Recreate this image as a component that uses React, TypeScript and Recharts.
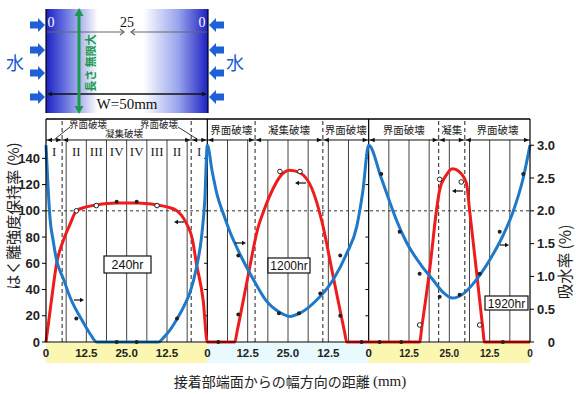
import React from 'react'
import { ComposedChart, Line, Scatter, XAxis, YAxis, ReferenceLine } from 'recharts'

const W = 576
const H = 394
const PLOT = { left: 46, right: 530, top: 119, bottom: 342 }
const X_MAX = 150 // three 50mm panels side by side
const Y_MAX = 170 // left axis, top of header row
const Y2_MAX = 3.4 // right axis, same pixel scale (150 <-> 3.0)
const SANS = "'Liberation Sans', Arial, sans-serif"
const SERIF = "'Liberation Serif', 'Times New Roman', serif"
const JP = "'Noto Sans CJK JP', sans-serif"

// ── Data (x = mm inside each panel) ─────────────────────────────────────────

const PANELS = ['240hr', '1200hr', '1920hr']
const PANEL_OFFSET = [0, 50, 100]

// はく離強度保持率 (%), red
const strength240 = [[0, 0], [0.8, 15], [1.8, 34], [3.3, 60], [5.3, 77], [7.5, 90], [9.4, 100], [12.5, 103], [15.6, 104.5], [21.9, 106], [28.1, 106], [34.4, 104.5], [37.5, 103], [40.6, 100], [43.4, 91], [45.4, 78], [46.6, 60], [48.7, 32], [50, 0]]
const strength1200 = [[0, 0], [8.5, 0], [9.3, 9], [12.2, 45], [15.8, 88], [17.5, 100], [20.4, 117], [22.5, 126], [25.5, 131], [28.7, 129], [32.4, 117], [35.5, 92], [39, 50], [42.5, 8], [43.2, 0], [50, 0]]
const strength1920 = [[0, 0], [15.8, 0], [16.5, 12], [19, 57], [21, 100], [22, 116], [24, 127], [26, 132], [28, 130], [30.3, 121], [31.3, 100], [33.5, 52], [35.3, 12], [35.9, 0], [50, 0]]

// 吸水率 (%), blue
const water240 = [[0, 3.0], [0.6, 2.4], [1.25, 1.88], [2.2, 1.55], [3.4, 1.22], [4.3, 1.09], [5.4, 0.96], [7.4, 0.69], [9, 0.52], [10.5, 0.39], [12, 0.26], [13.6, 0.13], [15.7, 0], [34.8, 0], [36.5, 0.07], [38.4, 0.18], [40.6, 0.35], [43, 0.57], [44.6, 0.75], [46.7, 1.15], [48.2, 1.6], [49.2, 2.15], [50, 3.0]]
const water1200 = [[0, 3.0], [1.5, 2.6], [3, 2.25], [5, 1.95], [7, 1.68], [10.2, 1.33], [14.3, 0.95], [18.4, 0.62], [22.5, 0.45], [25.5, 0.39], [28.7, 0.44], [33.9, 0.64], [39, 0.95], [43.2, 1.35], [46.3, 1.76], [48.2, 2.3], [50, 3.0]]
const water1920 = [[0, 3.0], [3.9, 2.5], [6.5, 2.14], [8.6, 1.86], [11.7, 1.52], [16.3, 1.17], [19.9, 0.95], [23, 0.76], [26, 0.67], [29.2, 0.73], [33.4, 0.95], [37.5, 1.25], [41.6, 1.62], [44.7, 1.98], [47.9, 2.5], [50, 3.0]]

// measured points (left-axis units)
const dotsFilled = [
  [[9.4, 18], [21.9, 0], [28.1, 0], [40.6, 18], [21.9, 107], [28.1, 107]],
  [[3.4, 0], [9.6, 66], [9.6, 21], [22.2, 22], [28.4, 22], [35, 37], [41.2, 66], [41.2, 20], [47.8, 0]],
  [[3.4, 0], [10.1, 0], [9.6, 84], [15.8, 52], [22, 34.5], [28.2, 36], [34.4, 52], [40.6, 84], [41.6, 0], [47.9, 128], [3.9, 128]],
]
const dotsOpen = [
  [[9.4, 100], [15.6, 104], [34.4, 104]],
  [[22.5, 130], [28.7, 130]],
  [[22, 124], [28.7, 122], [15.8, 13], [34.4, 13]],
]

// failure zones: dashed boundaries per panel (mm)
const zoneBounds = [[5, 45], [14.8, 35.8], [21.7, 29.8]]
const zoneLabels = [
  [],
  [['界面破壊', 0, 14.8], ['凝集破壊', 14.8, 35.8], ['界面破壊', 35.8, 50]],
  [['界面破壊', 0, 21.7], ['凝集', 21.7, 29.8], ['界面破壊', 29.8, 50]],
]
const romanLabels = [['I', 2.5], ['II', 9.4], ['III', 15.6], ['IV', 21.9], ['IV', 28.1], ['III', 34.4], ['II', 40.6], ['I', 47.5]]

const X_TICKS = [0, 12.5, 25, 37.5, 50, 62.5, 75, 87.5, 100, 112.5, 125, 137.5, 150]
const Y_TICKS = [0, 20, 40, 60, 80, 100, 120, 140]
const Y2_TICKS = [0, 0.5, 1, 1.5, 2, 2.5, 3]
const GRID_STEP = 6.25
const HEADER_LINE = 154

const join = (sets: number[][][]) =>
  sets.flatMap((s, i) => s.map(([x, v]) => ({ x: x + PANEL_OFFSET[i], v })))

const strengthData = join([strength240, strength1200, strength1920])
const waterData = join([water240, water1200, water1920])
const filledData = join(dotsFilled)
const openData = join(dotsOpen)
const dashX = zoneBounds.flatMap((b, i) => b.map((x) => x + PANEL_OFFSET[i]))
const gridX = Array.from({ length: 23 }, (_, i) => (i + 1) * GRID_STEP).filter((x) => x % 50 !== 0)

// pixel helpers for the annotation layer (same geometry as the chart)
const X = (mm: number) => PLOT.left + (mm / X_MAX) * (PLOT.right - PLOT.left)
const Y = (v: number) => PLOT.bottom - (v / Y_MAX) * (PLOT.bottom - PLOT.top)

// ── Ticks ────────────────────────────────────────────────────────────────────

function XTick({ x, y, payload }: any) {
  const v: number = payload.value
  const local = v % 50
  const label = local === 0 ? '0' : local === 25 ? '25.0' : '12.5'
  return (
    <text x={x} y={y} dy={9} textAnchor="middle" fontSize={v > 100 ? 10 : 11.5} fontWeight="bold" fill="#222" fontFamily={SANS}>
      {label}
    </text>
  )
}

function RightTick({ x, y, payload }: any) {
  const v: number = payload.value
  return (
    <text x={x + 19} y={y} dy={4.5} textAnchor="end" fontSize={13} fontWeight="bold" fill="#222" fontFamily={SANS}>
      {v === 0 ? '0' : v.toFixed(1)}
    </text>
  )
}

// ── Annotation pieces ───────────────────────────────────────────────────────

function SmallArrow({ x1, x2, y }: { x1: number; x2: number; y: number }) {
  const dir = x2 > x1 ? 1 : -1
  return (
    <g>
      <line x1={x1} y1={y} x2={x2 - dir * 3} y2={y} stroke="#111" strokeWidth={1.2} />
      <polygon points={`${x2},${y} ${x2 - dir * 4},${y - 2.2} ${x2 - dir * 4},${y + 2.2}`} fill="#111" />
    </g>
  )
}

function Head({ x, y, dir }: { x: number; y: number; dir: number }) {
  return <polygon points={`${x},${y} ${x - dir * 5},${y - 2.2} ${x - dir * 5},${y + 2.2}`} fill="#111" />
}

function WaterArrow({ tip, y, dir }: { tip: number; y: number; dir: number }) {
  const t = tip
  const pts = [[t - dir * 15, y - 3.5], [t - dir * 7, y - 3.5], [t - dir * 7, y - 7], [t, y], [t - dir * 7, y + 7], [t - dir * 7, y + 3.5], [t - dir * 15, y + 3.5]]
  return <polygon points={pts.map((p) => p.join(',')).join(' ')} fill="#1f5fd8" />
}

function Specimen() {
  return (
    <g>
      <defs>
        <linearGradient id="specimenGrad" x1="0" y1="0" x2="1" y2="0">
          <stop offset="0" stopColor="#1d20c2" />
          <stop offset="0.1" stopColor="#5a66dc" />
          <stop offset="0.32" stopColor="#ffffff" />
          <stop offset="0.6" stopColor="#ffffff" />
          <stop offset="0.82" stopColor="#96a2ec" />
          <stop offset="1" stopColor="#1d20c2" />
        </linearGradient>
      </defs>
      <rect x={46} y={9} width={162} height={104} fill="url(#specimenGrad)" />
      <line x1={46} y1={9} x2={46} y2={113} stroke="#000" strokeWidth={1.2} />
      <line x1={208} y1={9} x2={208} y2={113} stroke="#000" strokeWidth={1.2} />

      {[25, 50, 73, 97].map((y) => <WaterArrow key={'l' + y} tip={45} y={y} dir={1} />)}
      {[25, 50, 73, 97].map((y) => <WaterArrow key={'r' + y} tip={209} y={y} dir={-1} />)}
      <text x={15} y={62} textAnchor="middle" dominantBaseline="central" fontSize={18} fill="#2058d0" fontFamily={JP}>水</text>
      <text x={235} y={62} textAnchor="middle" dominantBaseline="central" fontSize={18} fill="#2058d0" fontFamily={JP}>水</text>

      <text x={51} y={22} textAnchor="middle" dominantBaseline="central" fontSize={14} fill="#fff" fontFamily={SERIF}>0</text>
      <text x={127} y={22} textAnchor="middle" dominantBaseline="central" fontSize={14} fill="#111" fontFamily={SERIF}>25</text>
      <text x={202} y={22} textAnchor="middle" dominantBaseline="central" fontSize={14} fill="#fff" fontFamily={SERIF}>0</text>

      <line x1={47} y1={32} x2={124} y2={32} stroke="#666" strokeWidth={1.2} />
      <polyline points="120,29 124,32 120,35" fill="none" stroke="#666" strokeWidth={1.2} />
      <line x1={131} y1={32} x2={207} y2={32} stroke="#666" strokeWidth={1.2} />
      <polyline points="135,29 131,32 135,35" fill="none" stroke="#666" strokeWidth={1.2} />

      <line x1={50} y1={94} x2={204} y2={94} stroke="#111" strokeWidth={1.5} />
      <Head x={47} y={94} dir={-1} />
      <Head x={207} y={94} dir={1} />
      <text x={127} y={104} textAnchor="middle" dominantBaseline="central" fontSize={15} fill="#111" fontFamily={SERIF}>W=50mm</text>

      <line x1={79} y1={15} x2={79} y2={107} stroke="#1a9a4c" strokeWidth={3} />
      <polygon points="79,8 74.5,16 83.5,16" fill="#1a9a4c" />
      <polygon points="79,114 74.5,106 83.5,106" fill="#1a9a4c" />
      <text transform="translate(90,63) rotate(-90)" textAnchor="middle" dominantBaseline="central" fontSize={11} fontWeight="bold" fill="#1a9a4c" fontFamily={JP}>
        長さ 無限大
      </text>
    </g>
  )
}

function Header() {
  const yLine = Y(HEADER_LINE)
  const segs: number[][] = PANEL_OFFSET.map((o, i) => [o, ...zoneBounds[i].map((b) => b + o), o + 50])
  return (
    <g>
      {segs.flatMap((s, i) =>
        s.slice(0, -1).map((a, j) => (
          <g key={`h${i}-${j}`}>
            <Head x={X(a) + 1} y={yLine} dir={-1} />
            <Head x={X(s[j + 1]) - 1} y={yLine} dir={1} />
          </g>
        )),
      )}
      {/* 240hr panel: two-level labels */}
      <text x={88} y={124} textAnchor="middle" dominantBaseline="central" fontSize={9.5} fill="#222" fontFamily={JP}>界面破壊</text>
      <text x={159} y={124} textAnchor="middle" dominantBaseline="central" fontSize={9.5} fill="#222" fontFamily={JP}>界面破壊</text>
      <text x={124} y={133} textAnchor="middle" dominantBaseline="central" fontSize={9.5} fill="#222" fontFamily={JP}>凝集破壊</text>
      <line x1={55} y1={139} x2={70} y2={127} stroke="#222" strokeWidth={0.9} />
      <line x1={178} y1={127} x2={197} y2={139} stroke="#222" strokeWidth={0.9} />
      {zoneLabels.flatMap((labels, i) =>
        labels.map(([t, a, b]: any, j) => (
          <text key={`z${i}-${j}`} x={(X(a + PANEL_OFFSET[i]) + X(b + PANEL_OFFSET[i])) / 2} y={129} textAnchor="middle" dominantBaseline="central" fontSize={10.5} fill="#222" fontFamily={JP}>
            {t}
          </text>
        )),
      )}
      {romanLabels.map(([t, x]: any, i) => (
        <text key={'r' + i} x={X(x)} y={151} textAnchor="middle" dominantBaseline="central" fontSize={13} fill="#222" fontFamily={SERIF}>{t}</text>
      ))}
    </g>
  )
}

function HourBox({ cx, cy, w, h, label, size }: { cx: number; cy: number; w: number; h: number; label: string; size: number }) {
  return (
    <g>
      <rect x={cx - w / 2} y={cy - h / 2} width={w} height={h} fill="#fff" stroke="#111" strokeWidth={1.2} />
      <text x={cx} y={cy} dy={0.5} textAnchor="middle" dominantBaseline="central" fontSize={size} fill="#111" fontFamily={SANS}>{label}</text>
    </g>
  )
}

// ── Main ─────────────────────────────────────────────────────────────────────

export default function App() {
  return (
    <div style={{ position: 'absolute', left: 0, top: 0, width: W, height: H, background: '#fff' }}>
      {/* coloured strips behind the x tick labels */}
      <svg width={W} height={H} style={{ position: 'absolute', left: 0, top: 0 }}>
        <rect x={X(0)} y={343} width={X(50) - X(0)} height={20} fill="#fbf6b0" />
        <rect x={X(50)} y={343} width={X(100) - X(50)} height={20} fill="#e8fafd" />
        <rect x={X(100)} y={343} width={X(150) - X(100)} height={20} fill="#fbf6b0" />
      </svg>

      <div style={{ position: 'absolute', left: 0, top: 0 }}>
        <ComposedChart width={W} height={H} margin={{ top: PLOT.top, right: 0, bottom: 30, left: 0 }}>
          <XAxis dataKey="x" type="number" domain={[0, X_MAX]} ticks={X_TICKS} interval={0} tick={XTick} tickLine={false} tickSize={4} tickMargin={2} height={22} axisLine={{ stroke: '#000', strokeWidth: 1.2 }} />
          <YAxis yAxisId="left" orientation="left" width={46} domain={[0, Y_MAX]} ticks={Y_TICKS} interval={0} tickSize={4} tickMargin={2} axisLine={{ stroke: '#000', strokeWidth: 1.2 }} tickLine={{ stroke: '#000' }} tick={{ fontSize: 13, fontWeight: 'bold', fill: '#222', fontFamily: SANS }} />
          <YAxis yAxisId="right" orientation="right" width={46} domain={[0, Y2_MAX]} ticks={Y2_TICKS} interval={0} tickSize={4} tickMargin={2} axisLine={{ stroke: '#000', strokeWidth: 1.2 }} tickLine={{ stroke: '#000' }} tick={RightTick} />

          {gridX.map((x) => (
            <ReferenceLine key={'g' + x} yAxisId="left" segment={[{ x, y: 0 }, { x, y: HEADER_LINE }]} stroke="#444" strokeWidth={1} />
          ))}
          {dashX.map((x) => (
            <ReferenceLine key={'d' + x} yAxisId="left" x={x} stroke="#222" strokeWidth={1} strokeDasharray="4 3" />
          ))}
          {[50, 100].map((x) => (
            <ReferenceLine key={'p' + x} yAxisId="left" x={x} stroke="#000" strokeWidth={1.2} />
          ))}
          {[50, 100].flatMap((x) =>
            [20, 40, 60, 80, 100, 120, 140].map((v) => (
              <ReferenceLine key={`t${x}-${v}`} yAxisId="left" segment={[{ x: x - 1, y: v }, { x, y: v }]} stroke="#000" />
            )),
          )}
          <ReferenceLine yAxisId="left" y={100} stroke="#333" strokeDasharray="3 3" />
          <ReferenceLine yAxisId="left" y={HEADER_LINE} stroke="#111" strokeWidth={1} />
          <ReferenceLine yAxisId="left" y={Y_MAX} stroke="#000" strokeWidth={1.5} />

          <Line data={strengthData} yAxisId="left" dataKey="v" type="monotone" stroke="#ee1c1c" strokeWidth={3} dot={false} isAnimationActive={false} />
          <Line data={waterData} yAxisId="right" dataKey="v" type="monotone" stroke="#1f78c8" strokeWidth={3} dot={false} isAnimationActive={false} />
          <Scatter data={filledData} yAxisId="left" dataKey="v" isAnimationActive={false} shape={(p: any) => <circle cx={p.cx} cy={p.cy} r={2} fill="#222" />} />
          <Scatter data={openData} yAxisId="left" dataKey="v" isAnimationActive={false} shape={(p: any) => <circle cx={p.cx} cy={p.cy} r={2.3} fill="#fff" stroke="#222" strokeWidth={1} />} />
        </ComposedChart>
      </div>

      <svg width={W} height={H} style={{ position: 'absolute', left: 0, top: 0, pointerEvents: 'none' }}>
        <Specimen />
        <Header />

        <HourBox cx={127.5} cy={264.5} w={47} h={17} label={PANELS[0]} size={12.5} />
        <HourBox cx={289} cy={265.5} w={42} h={15} label={PANELS[1]} size={12} />
        <HourBox cx={506.5} cy={303} w={43} h={14} label={PANELS[2]} size={12} />

        <SmallArrow x1={74} x2={84} y={300} />
        <SmallArrow x1={184} x2={174} y={222} />
        <SmallArrow x1={235} x2={246} y={243} />
        <SmallArrow x1={306} x2={295} y={183} />
        <SmallArrow x1={463} x2={452} y={191} />
        <SmallArrow x1={500} x2={509} y={245} />

        <text transform="translate(12,216) rotate(-90)" textAnchor="middle" dominantBaseline="central" fontSize={15} fill="#222" fontFamily={JP}>
          はく離強度保持率 (%)
        </text>
        <text transform="translate(564,262) rotate(-90)" textAnchor="middle" dominantBaseline="central" fontSize={15.5} fill="#222" fontFamily={JP}>
          吸水率 (%)
        </text>
        <text x={290} y={381} textAnchor="middle" dominantBaseline="central" fontSize={14} fill="#222" fontFamily={JP}>
          接着部端面からの幅方向の距離 <tspan fontFamily={SERIF} fontSize={15}>(mm)</tspan>
        </text>
      </svg>
    </div>
  )
}
